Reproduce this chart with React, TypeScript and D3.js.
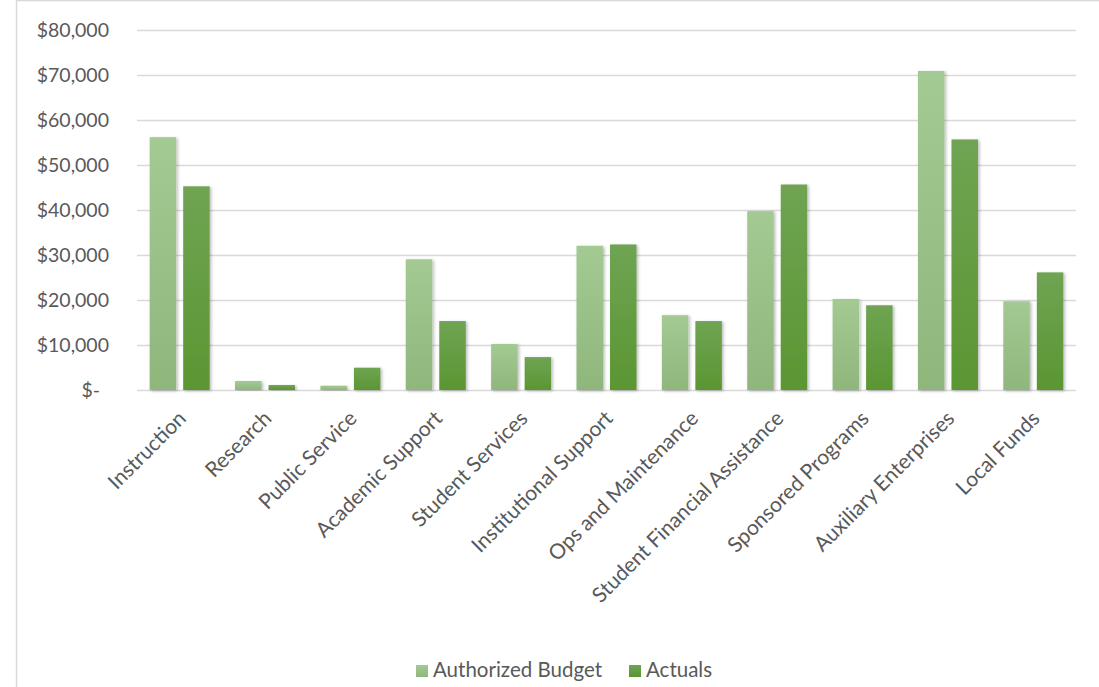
import React from "react";
import * as d3 from "d3";

const categories = [
  "Instruction",
  "Research",
  "Public Service",
  "Academic Support",
  "Student Services",
  "Institutional Support",
  "Ops and Maintenance",
  "Student Financial Assistance",
  "Sponsored Programs",
  "Auxiliary Enterprises",
  "Local Funds",
];
const seriesNames = ["Authorized Budget", "Actuals"];
const authorizedBudget = [56100, 2000, 950, 29000, 10200, 32000, 16600, 39700, 20200, 70800, 19700];
const actuals = [45200, 1100, 4950, 15300, 7300, 32300, 15300, 45600, 18800, 55600, 26100];
const yTicks = [0, 10000, 20000, 30000, 40000, 50000, 60000, 70000, 80000];

const W = 1099;
const H = 687;
const FONT = "Lato, 'Open Sans', sans-serif";
const TEXT = "#595959";

export default function App() {
  const x0 = d3.scaleBand<string>().domain(categories).range([137, 1076]).paddingInner(0.297).paddingOuter(0.1485);
  const x1 = d3.scaleBand<string>().domain(seriesNames).range([0, x0.bandwidth()]).paddingInner(0.21);
  const y = d3.scaleLinear().domain([0, 80000]).range([390, 29.5]);
  const fmt = (v: number) => (v === 0 ? "$-" : "$" + d3.format(",")(v));
  const data = [authorizedBudget, actuals];
  const fills = ["url(#gBudget)", "url(#gActual)"];
  const legendX = [416, 629];

  return (
    <svg width={W} height={H} style={{ position: "absolute", left: 0, top: 0, background: "#fff" }} fontFamily={FONT}>
      <defs>
        <linearGradient id="gBudget" x1="0" y1="0" x2="0" y2="1">
          <stop offset="0%" stopColor="#a3ca92" />
          <stop offset="100%" stopColor="#8fb67b" />
        </linearGradient>
        <linearGradient id="gActual" x1="0" y1="0" x2="0" y2="1">
          <stop offset="0%" stopColor="#6fa453" />
          <stop offset="100%" stopColor="#5a9632" />
        </linearGradient>
        <filter id="shadow" x="-30%" y="-10%" width="160%" height="120%">
          <feDropShadow dx="1.5" dy="1" stdDeviation="1.8" floodColor="#000" floodOpacity="0.28" />
        </filter>
      </defs>
      <rect x={16.5} y={0.5} width={W + 10} height={H + 10} fill="#fff" stroke="#d9d9d9" strokeWidth={1.5} />
      {yTicks.map((t) => (
        <g key={t}>
          <line x1={137} x2={1076} y1={Math.round(y(t)) + 0.5} y2={Math.round(y(t)) + 0.5} stroke="#d9d9d9" strokeWidth={1.5} />
          <text
            x={t === 0 ? 100 : 109}
            y={y(t)}
            dy="0.36em"
            textAnchor="end"
            fontSize={19.5}
            fill={TEXT}
          >
            {fmt(t)}
          </text>
        </g>
      ))}
      {categories.map((c, i) => (
        <g key={c} transform={`translate(${x0(c)},0)`}>
          {seriesNames.map((s, k) => (
            <rect
              key={s}
              x={x1(s)}
              y={y(data[k][i])}
              width={x1.bandwidth()}
              height={y(0) - y(data[k][i])}
              fill={fills[k]}
              filter="url(#shadow)"
            />
          ))}
        </g>
      ))}
      {categories.map((c) => {
        const cx = (x0(c) as number) + x0.bandwidth() / 2;
        return (
          <text
            key={c}
            transform={`translate(${cx - 3},${409}) rotate(-45)`}
            textAnchor="end"
            dy="0.72em"
            fontSize={21}
            fill={TEXT}
          >
            {c}
          </text>
        );
      })}
      {seriesNames.map((s, k) => (
        <g key={s}>
          <rect x={legendX[k]} y={665} width={12} height={12} fill={fills[k]} />
          <text x={legendX[k] + 17} y={676.5} fontSize={20.5} fill={TEXT}>
            {s}
          </text>
        </g>
      ))}
    </svg>
  );
}
